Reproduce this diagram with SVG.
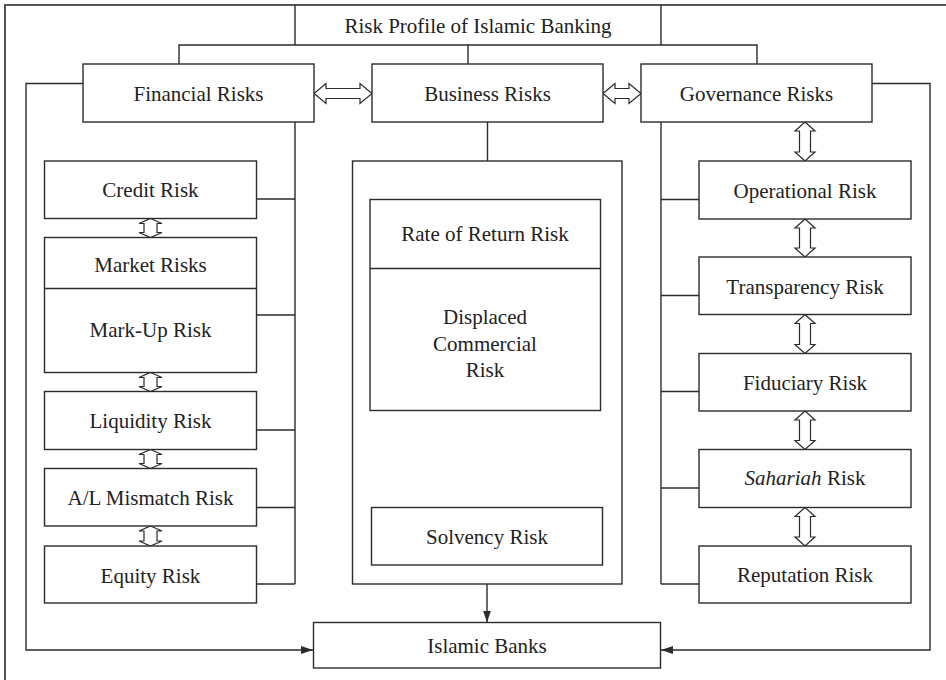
<svg xmlns="http://www.w3.org/2000/svg" width="946" height="680" viewBox="0 0 946 680">
<style>
.box{fill:#fff;stroke:#2b2b2b;stroke-width:1.4}
.ln{fill:none;stroke:#2b2b2b;stroke-width:1.4}
.frame{fill:none;stroke:#555;stroke-width:2}
.dbl{fill:#fff;stroke:#2b2b2b;stroke-width:1.2;stroke-linejoin:miter}
text{font-family:"Liberation Serif","Times New Roman",serif;font-size:21px;fill:#222;text-anchor:middle}
</style>
<defs>
<marker id="ah" markerUnits="userSpaceOnUse" markerWidth="12" markerHeight="8" refX="12" refY="4" orient="auto">
<path d="M0,0 L12,4 L0,8 z" fill="#2b2b2b"/>
</marker>
</defs>
<rect width="946" height="680" fill="#fff"/>
<path class="frame" d="M5,680 V5 H946"/>

<g id="connectors">
<path class="ln" d="M179,64 V45 H757 V64"/>
<path class="ln" d="M468,45 V64"/>
<path class="ln" d="M83,83.5 H26 V650 H313" marker-end="url(#ah)"/>
<path class="ln" d="M872,83.5 H930 V650 H661" marker-end="url(#ah)"/>
<path class="ln" d="M295,122 V584"/>
<path class="ln" d="M256,199 H295 M256,315 H295 M256,430 H295 M256,507.5 H295 M256,584 H295"/>
<path class="ln" d="M661,122 V584"/>
<path class="ln" d="M661,199.5 H699 M661,295.5 H699 M661,391.5 H699 M661,488 H699 M661,584 H699"/>
<path class="ln" d="M487.5,122 V161"/>
<path class="ln" d="M352.5,334 H370 M600.5,334 H622 M352.5,527 H371.5 M601,536 H622"/>
<path class="ln" d="M487,584 V622.5" marker-end="url(#ah)"/>
<polygon class="dbl" points="314,93.5 326,83.5 326,88.5 360,88.5 360,83.5 372,93.5 360,103.5 360,98.5 326,98.5 326,103.5"/>
<polygon class="dbl" points="603,93.5 615,83.5 615,88.5 629,88.5 629,83.5 641,93.5 629,103.5 629,98.5 615,98.5 615,103.5"/>
<polygon class="dbl" points="805,122 815,131 810.5,131 810.5,152 815,152 805,161 795,152 799.5,152 799.5,131 795,131"/>
<polygon class="dbl" points="805,219 815,228 810.5,228 810.5,248 815,248 805,257 795,248 799.5,248 799.5,228 795,228"/>
<polygon class="dbl" points="805,314.5 815,323.5 810.5,323.5 810.5,344.5 815,344.5 805,353.5 795,344.5 799.5,344.5 799.5,323.5 795,323.5"/>
<polygon class="dbl" points="805,411 815,420 810.5,420 810.5,440.5 815,440.5 805,449.5 795,440.5 799.5,440.5 799.5,420 795,420"/>
<polygon class="dbl" points="805,507.5 815,516.5 810.5,516.5 810.5,537 815,537 805,546 795,537 799.5,537 799.5,516.5 795,516.5"/>
<polygon class="dbl" points="477.5,411 487.5,430 482.5,430 482.5,488.5 487.5,488.5 477.5,507.5 467.5,488.5 472.5,488.5 472.5,430 467.5,430"/>
<polygon class="dbl" points="150.5,218.5 162,223.5 157,223.5 157,232.5 162,232.5 150.5,237.5 139,232.5 144,232.5 144,223.5 139,223.5"/>
<polygon class="dbl" points="150.5,372.5 162,377.5 157,377.5 157,386.5 162,386.5 150.5,391.5 139,386.5 144,386.5 144,377.5 139,377.5"/>
<polygon class="dbl" points="150.5,449.5 162,454.5 157,454.5 157,463.5 162,463.5 150.5,468.5 139,463.5 144,463.5 144,454.5 139,454.5"/>
<polygon class="dbl" points="150.5,526 162,531 157,531 157,541 162,541 150.5,546 139,541 144,541 144,531 139,531"/>
</g>

<g id="title">
<path class="ln" d="M295,5 V45 M661,5 V45"/>
<text x="478" y="33">Risk Profile of Islamic Banking</text>
</g>

<g id="financial">
<rect class="box" x="83" y="64" width="231" height="58"/>
<text x="198.5" y="101">Financial Risks</text>
</g>
<g id="business">
<rect class="box" x="372" y="64" width="231" height="58"/>
<text x="487.5" y="101">Business Risks</text>
</g>
<g id="governance">
<rect class="box" x="641" y="64" width="231" height="58"/>
<text x="756.5" y="101">Governance Risks</text>
</g>

<g id="credit">
<rect class="box" x="44.5" y="161" width="212" height="57.5"/>
<text x="150.5" y="197">Credit Risk</text>
</g>
<g id="market">
<rect class="box" x="44.5" y="237.5" width="212" height="135"/>
<path class="ln" d="M44.5,288.5 H256.5"/>
<text x="150.5" y="271.5">Market Risks</text>
<text x="150.5" y="337">Mark-Up Risk</text>
</g>
<g id="liquidity">
<rect class="box" x="44.5" y="391.5" width="212" height="58"/>
<text x="150.5" y="428">Liquidity Risk</text>
</g>
<g id="alm">
<rect class="box" x="44.5" y="468.5" width="212" height="57.5"/>
<text x="150.5" y="505">A/L Mismatch Risk</text>
</g>
<g id="equity">
<rect class="box" x="44.5" y="546" width="212" height="57"/>
<text x="150.5" y="583">Equity Risk</text>
</g>

<g id="business-container">
<rect class="box" x="352.5" y="161" width="269.5" height="423" fill="none"/>
</g>
<g id="rate-displaced">
<rect class="box" x="370" y="199.5" width="230.5" height="211"/>
<path class="ln" d="M370,268.5 H600.5"/>
<text x="485" y="241">Rate of Return Risk</text>
<text x="485" y="324">Displaced</text>
<text x="485" y="350.5">Commercial</text>
<text x="485" y="377">Risk</text>
</g>
<g id="solvency">
<rect class="box" x="371.5" y="507.5" width="231" height="57.5"/>
<text x="487" y="544">Solvency Risk</text>
</g>
<g id="islamic-banks">
<rect class="box" x="313.5" y="622.5" width="347" height="45.5"/>
<text x="487" y="653">Islamic Banks</text>
</g>

<g id="operational">
<rect class="box" x="699" y="161" width="212" height="58"/>
<text x="805" y="198">Operational Risk</text>
</g>
<g id="transparency">
<rect class="box" x="699" y="257" width="212" height="57.5"/>
<text x="805" y="294">Transparency Risk</text>
</g>
<g id="fiduciary">
<rect class="box" x="699" y="353.5" width="212" height="57.5"/>
<text x="805" y="389.5">Fiduciary Risk</text>
</g>
<g id="shariah">
<rect class="box" x="699" y="449.5" width="212" height="58"/>
<text x="805" y="485"><tspan font-style="italic">Sahariah</tspan> Risk</text>
</g>
<g id="reputation">
<rect class="box" x="699" y="546" width="212" height="57"/>
<text x="805" y="582">Reputation Risk</text>
</g>
</svg>
